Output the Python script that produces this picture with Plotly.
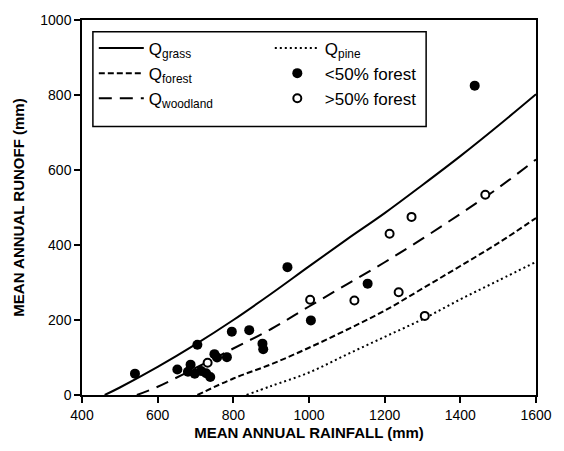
import plotly.graph_objects as go

# Model curves
grass_x = [460, 500, 600, 700, 800, 900, 1000, 1100, 1200, 1300, 1400, 1500, 1600]
grass_y = [0, 20, 75, 135, 200, 270, 343, 415, 485, 560, 637, 718, 802]

pine_x = [835, 900, 1000, 1100, 1200, 1300, 1400, 1500, 1600]
pine_y = [0, 24, 60, 108, 155, 202, 255, 305, 355]

forest_x = [705, 800, 900, 1000, 1100, 1200, 1300, 1400, 1500, 1600]
forest_y = [0, 44, 82, 126, 174, 225, 284, 344, 405, 472]

woodland_x = [545, 600, 700, 800, 900, 1000, 1100, 1200, 1300, 1400, 1500, 1600]
woodland_y = [0, 22, 72, 124, 176, 236, 295, 354, 417, 483, 552, 628]

# Catchments
low_forest_rain = [540, 652, 680, 687, 698, 715, 728, 739, 705, 750, 757, 783, 796, 842, 877, 879, 943, 1005, 1155, 1438]
low_forest_runoff = [57, 68, 62, 81, 57, 64, 58, 48, 134, 109, 100, 101, 169, 173, 137, 122, 341, 199, 297, 825]

high_forest_rain = [732, 1003, 1120, 1237, 1213, 1271, 1466, 1306]
high_forest_runoff = [86, 254, 252, 274, 430, 475, 534, 211]

x_ticks = [400, 600, 800, 1000, 1200, 1400, 1600]
y_ticks = [0, 200, 400, 600, 800, 1000]

FONT = "Liberation Sans, Arial"

fig = go.Figure()
fig.add_trace(go.Scatter(x=grass_x, y=grass_y, mode="lines", name="Q<sub>grass</sub>",
                         line=dict(color="black", width=2, dash="solid"), line_shape="spline"))
fig.add_trace(go.Scatter(x=pine_x, y=pine_y, mode="lines", name="Q<sub>pine</sub>",
                         line=dict(color="black", width=2, dash="2px,3px"), line_shape="spline"))
fig.add_trace(go.Scatter(x=forest_x, y=forest_y, mode="lines", name="Q<sub>forest</sub>",
                         line=dict(color="black", width=2, dash="6px,3px"), line_shape="spline"))
fig.add_trace(go.Scatter(x=low_forest_rain, y=low_forest_runoff, mode="markers", name="<50% forest",
                         marker=dict(symbol="circle", size=10, color="black")))
fig.add_trace(go.Scatter(x=woodland_x, y=woodland_y, mode="lines", name="Q<sub>woodland</sub>",
                         line=dict(color="black", width=2, dash="13px,8px"), line_shape="spline"))
fig.add_trace(go.Scatter(x=high_forest_rain, y=high_forest_runoff, mode="markers", name=">50% forest",
                         marker=dict(symbol="circle", size=8, color="white",
                                     line=dict(color="black", width=2))))

axis_common = dict(showline=True, linecolor="black", linewidth=1.5, mirror=True,
                   ticks="outside", ticklen=6, tickwidth=1.5, tickcolor="black",
                   showgrid=False, zeroline=False,
                   tickfont=dict(family=FONT, size=14, color="black"))

fig.update_xaxes(range=[400, 1600], tickvals=x_ticks, ticktext=[str(v) for v in x_ticks],
                 title=dict(text="<b>MEAN ANNUAL RAINFALL (mm)</b>", standoff=6,
                            font=dict(family=FONT, size=15, color="black")),
                 **axis_common)
fig.update_yaxes(range=[0, 1000], tickvals=y_ticks, ticktext=[str(v) for v in y_ticks],
                 title=dict(text="<b>MEAN ANNUAL RUNOFF (mm)</b>", standoff=12,
                            font=dict(family=FONT, size=15, color="black")),
                 **axis_common)

# legend frame (taller than plotly's own box, as in the original)
fig.add_shape(type="rect", xref="paper", yref="paper",
              x0=0.024, x1=0.758, y0=0.716, y1=0.969,
              line=dict(color="black", width=1.5), fillcolor="white", layer="below")

fig.update_layout(
    width=564, height=451,
    margin=dict(l=82, r=20, t=20, b=51),
    plot_bgcolor="white", paper_bgcolor="white",
    font=dict(family=FONT, color="black"),
    legend=dict(orientation="h", x=0.026, y=0.972, xanchor="left", yanchor="top",
                bgcolor="rgba(0,0,0,0)", borderwidth=0,
                entrywidth=116, itemwidth=45, tracegroupgap=0,
                font=dict(family=FONT, size=17, color="black")),
)

# remove the default 8px page margin so the figure sits at the window's corner
fig.write_html("out.html", config={"displayModeBar": False},
               post_script="document.body.style.margin='0';document.body.style.overflow='hidden';")
